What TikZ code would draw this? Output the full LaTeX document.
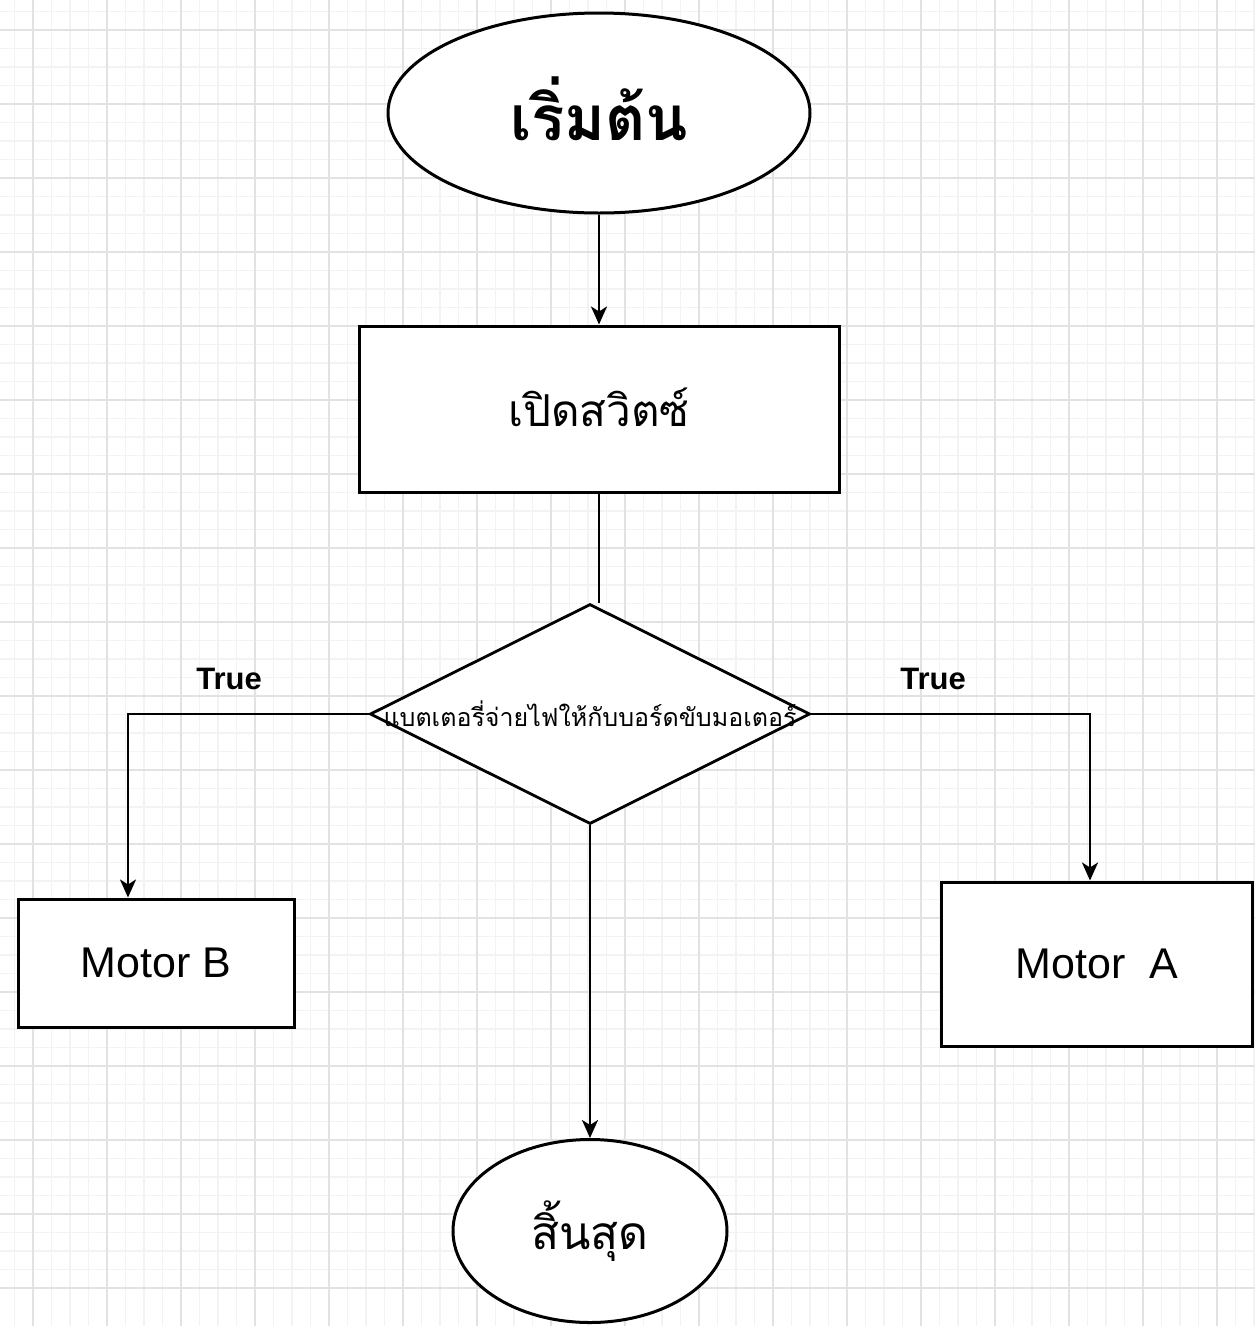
\documentclass[tikz,border=0pt]{standalone}
\usepackage{fontspec}
\setmainfont{Liberation Sans}
\newfontfamily\thaifont[Script=Thai]{Loma}
\usetikzlibrary{shapes.geometric, arrows.meta, positioning}
\definecolor{gridmajor}{HTML}{E2E2E2}
\definecolor{gridminor}{HTML}{F3F3F3}
\tikzset{
  terminal/.style={ellipse, draw, line width=3pt, fill=white, inner sep=0pt},
  process/.style={rectangle, draw, line width=3pt, fill=white, inner sep=0pt},
  decision/.style={diamond, draw, line width=2.8pt, fill=white, inner sep=0pt},
  flow/.style={line width=2.5pt, -{Stealth[length=18pt, width=16pt, inset=5pt]}},
  plainline/.style={line width=2.5pt},
  truelabel/.style={font=\fontsize{31}{36}\selectfont\bfseries},
}

\begin{document}
\begin{tikzpicture}[x=1pt, y=-1pt]
\useasboundingbox (0,0) rectangle (1255,1326);
\fill[white] (0,0) rectangle (1255,1326);
% grid paper
\begin{scope}
\clip (0,0) rectangle (1255,1326);
\foreach \k in {-1,...,67} {
  \draw[gridminor, line width=1.2pt] ({33+18.5*\k},0) -- ({33+18.5*\k},1326);
  \draw[gridminor, line width=1.2pt] (0,{30+18.5*\k}) -- (1255,{30+18.5*\k});
}
\foreach \k in {0,...,17} {
  \draw[gridmajor, line width=1.6pt] ({33+74*\k},0) -- ({33+74*\k},1326);
  \draw[gridmajor, line width=1.6pt] (0,{30+74*\k}) -- (1255,{30+74*\k});
}
\end{scope}

\node[terminal, minimum width=422pt, minimum height=200pt] (start) at (599,113)
  {\thaifont\fontsize{62}{70}\selectfont\bfseries\raisebox{9pt}{เริ่มต้น}};
\node[process, minimum width=480pt, minimum height=166pt] (switch) at (599,409)
  {\thaifont\fontsize{44}{50}\selectfont\raisebox{4pt}{เปิดสวิตซ์}};
\node[decision, minimum width=440pt, minimum height=220pt] (check) at (590,714) {};
\node (checktext) at (check.center)
  {\thaifont\fontsize{25}{28}\selectfont แบตเตอรี่จ่ายไฟให้กับบอร์ดขับมอเตอร์};
\node[process, minimum width=276pt, minimum height=128pt,
      font=\fontsize{43}{50}\selectfont] (motorb) at (156,963) {Motor B};
\node[process, minimum width=311pt, minimum height=164pt,
      font=\fontsize{43}{50}\selectfont] (motora) at (1097,964) {Motor\ \ A};
\node[terminal, minimum width=274pt, minimum height=183pt] (finish) at (590,1231)
  {\thaifont\fontsize{46}{52}\selectfont สิ้นสุด};
\node[truelabel] (truel) at (229,679) {True};
\node[truelabel] (truer) at (933,679) {True};

\draw[flow] (start) -- (switch);
\draw[plainline] (switch.south) -- (switch.south |- check.north);
\draw[flow] (check.west) -| ([xshift=-28pt]motorb.north);
\draw[flow] (check.east) -| ([xshift=-7pt]motora.north);
\draw[flow] (check.south) -- (finish.north);
\end{tikzpicture}
\end{document}
